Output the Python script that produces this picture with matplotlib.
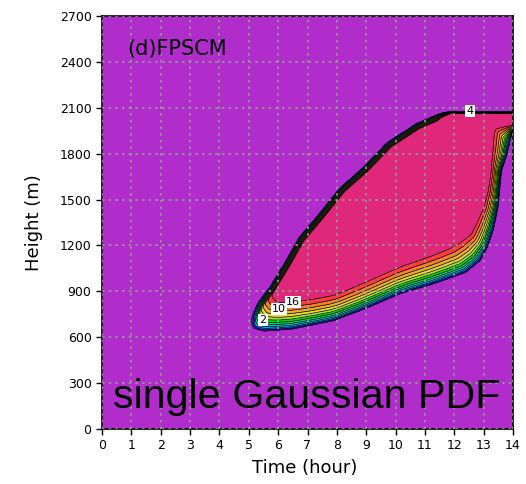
import numpy as np
import matplotlib
matplotlib.use("Agg")
import matplotlib.pyplot as plt
from matplotlib.path import Path
from matplotlib.colors import ListedColormap, BoundaryNorm

# ---- data ----
# upper (cloud-top) boundary: time (h), height (m)
top_t = [5.0, 5.3, 5.7, 6.2, 6.7, 7.3, 8.1, 8.9, 9.7, 10.7, 11.5, 11.8, 14.3]
top_z = [720, 830, 930, 1085, 1255, 1390, 1580, 1715, 1875, 2000, 2066, 2075, 2075]
# outer lower boundary (field -> 0)
out_t = [5.0, 5.15, 5.5, 6.5, 7.9, 9.0, 10.15, 11.3, 12.4, 12.9, 13.15, 13.35, 13.5, 13.62, 13.8, 13.97, 14.3]
out_z = [720, 655, 635, 650, 705, 785, 880, 945, 1020, 1100, 1190, 1305, 1450, 1690, 1790, 1935, 1960]
# inner lower boundary (field -> maximum)
in_t = [5.9, 6.1, 7.0, 7.9, 9.0, 10.15, 11.3, 11.85, 12.45, 12.87, 13.05, 13.15, 13.2, 13.3, 14.3]
in_z = [985, 880, 890, 920, 1010, 1110, 1190, 1236, 1300, 1450, 1560, 1674, 1935, 1990, 2000]
field_max = 26.0
levels = [2, 4, 6, 8, 10, 12, 14, 16, 18, 20, 22, 24]
band_colors = ["#B02CCB", "#8200DC", "#1E3CFF", "#00A0FF", "#00C8C8", "#00D28C",
               "#00DC00", "#A0E632", "#E6DC32", "#E6AF2D", "#F08228", "#FA3C3C", "#E0287A"]
label_text = ["2", "10", "16", "4"]
label_t = [5.48, 6.03, 6.5, 12.54]
label_z = [713, 785, 828, 2080]
xticks = list(range(0, 15))
yticks = list(range(0, 2701, 300))

# ---- build the field on a grid ----
sx, sz = 411 / 14.0, 413 / 2700.0  # data -> pixel scale
T, Z = np.meshgrid(np.linspace(0, 14, 421), np.linspace(0, 2700, 406))
P = np.stack([T.ravel() * sx, Z.ravel() * sz], 1)


def poly_dist(ts, zs):
    A = np.stack([np.array(ts[:-1]) * sx, np.array(zs[:-1]) * sz], 1)
    B = np.stack([np.array(ts[1:]) * sx, np.array(zs[1:]) * sz], 1)
    AB = B - A
    d = np.full(P.shape[0], np.inf)
    for a, ab in zip(A, AB):
        ap = P - a
        u = np.clip((ap @ ab) / (ab @ ab), 0, 1)
        c = a + u[:, None] * ab
        d = np.minimum(d, np.hypot(*(P - c).T))
    return d


polyA = [(t * sx, z * sz) for t, z in zip(top_t, top_z)] + \
        [(t * sx, z * sz) for t, z in zip(out_t[::-1], out_z[::-1])]
polyB = [(in_t[0] * sx, in_z[0] * sz)] + \
        [(t * sx, z * sz) for t, z in zip(top_t, top_z) if t > in_t[0]] + \
        [(t * sx, z * sz) for t, z in zip(in_t[::-1], in_z[::-1])]
inA = Path(polyA).contains_points(P)
inB = Path(polyB).contains_points(P)
d_out = poly_dist(out_t, out_z)
d_in = poly_dist(in_t, in_z)
d_top = poly_dist(top_t, top_z)
frac = d_out / (d_out + d_in + 1e-9)
band = np.where(inB, 1.0, np.where(inA, 1 - (1 - frac ** 0.7) ** 1.4, 0.0))
w_top = np.interp(P[:, 0] / sx, [11.4, 11.9], [7.0, 2.0])
topf = np.clip(d_top / w_top, 0, 1)
F = (field_max * band * topf * inA).reshape(T.shape)

# ---- plot ----
fig = plt.figure(figsize=(5.26, 4.84), dpi=100)
ax = fig.add_axes([102 / 526, 1 - 429 / 484, 411 / 526, 413 / 484])
ax.set_facecolor(band_colors[0])
bounds = [-1] + levels + [field_max + 5]
cmap = ListedColormap(band_colors)
norm = BoundaryNorm(bounds, cmap.N)
ax.contourf(T, Z, F, levels=bounds, cmap=cmap, norm=norm, zorder=1)
ax.contour(T, Z, F, levels=levels, colors="black", linewidths=0.5, zorder=2)

for s, t, z in zip(label_text, label_t, label_z):
    ax.text(t, z, s, fontsize=8, ha="center", va="center", zorder=6,
            bbox=dict(facecolor="white", edgecolor="none", pad=0.8))

ax.set_xlim(0, 14)
ax.set_ylim(0, 2700)
ax.set_xticks(xticks)
ax.set_yticks(yticks)
ax.tick_params(direction="out", length=4, width=1, labelsize=9, colors="black")
ax.set_axisbelow(False)
ax.grid(True, color="#999999", linestyle=(0, (1.5, 2.5)), linewidth=1.2)
for sp in ax.spines.values():
    sp.set_linewidth(1.2)

ax.set_xlabel("Time (hour)", fontsize=13)
ax.set_ylabel("Height (m)", fontsize=13)
ax.xaxis.set_label_coords(0.494, -0.072)
ax.yaxis.set_label_coords(-0.143, 0.50)

ax.text(0.85, 2484, "(d)FPSCM", fontsize=15, va="center", ha="left", zorder=7)
ax.text(0.38, 137, "single Gaussian PDF", fontsize=29.7, family="Liberation Sans",
        va="baseline", ha="left", zorder=7)

fig.savefig("out.png", dpi=100)
